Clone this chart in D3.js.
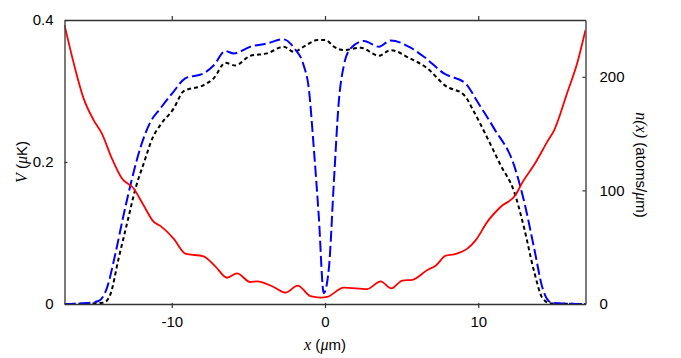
<!DOCTYPE html>
<html>
<head>
<meta charset="utf-8">
<script src="https://cdn.jsdelivr.net/npm/d3@7"></script>
<style>
  body { margin: 0; background: #fff; }
  svg { display: block; }
  text { font-family: "Liberation Sans", Arial, sans-serif; fill: #000; }
  .it { font-family: "Liberation Serif", "Times New Roman", serif; font-style: italic; }
</style>
</head>
<body>
<script>
// potential V(x) in uK
const potential = [
  [-17.0, 0.393], [-16.42, 0.341], [-15.76, 0.29], [-15.1, 0.259], [-14.56, 0.24],
  [-13.91, 0.205], [-13.26, 0.177], [-12.5, 0.163], [-11.84, 0.139], [-11.19, 0.116],
  [-10.75, 0.11], [-9.88, 0.092], [-9.12, 0.071], [-7.92, 0.067], [-7.16, 0.053],
  [-6.39, 0.037], [-5.74, 0.043], [-4.87, 0.031], [-4.43, 0.032], [-3.35, 0.024],
  [-2.58, 0.016], [-1.78, 0.026], [-0.95, 0.011], [-0.29, 0.009], [0.14, 0.01],
  [1.23, 0.023], [2.76, 0.021], [3.63, 0.032], [4.33, 0.022], [5.05, 0.033],
  [5.7, 0.034], [6.68, 0.048], [7.22, 0.054], [7.88, 0.068], [8.42, 0.07],
  [9.29, 0.078], [9.84, 0.09], [10.6, 0.116], [11.47, 0.137], [12.45, 0.154],
  [12.9, 0.172], [13.65, 0.196], [14.52, 0.229], [14.96, 0.245], [15.83, 0.299],
  [16.48, 0.341], [17.0, 0.386]
];

// density n(x) with the dip (blue dashed)
const densityDip = [
  [-17, 0], [-15.54, 0.8], [-14.78, 2.6], [-14.24, 13.8], [-13.7, 43], [-13.15, 78],
  [-12.6, 110], [-12.06, 137], [-11.4, 160], [-10.75, 172], [-9.88, 187], [-9.12, 198.6],
  [-7.92, 203], [-7.27, 210], [-6.5, 222.6], [-5.96, 220.6], [-4.87, 226.5], [-3.78, 229.4],
  [-2.73, 233], [-2.0, 225], [-1.39, 210], [-1.06, 190], [-0.73, 137], [-0.41, 78],
  [-0.08, 9.5], [0.25, 31], [0.58, 107.6], [0.9, 178], [1.23, 210], [1.67, 225],
  [2.54, 231.5], [3.52, 226.5], [4.28, 232], [5.59, 225.6], [6.46, 217.6], [7.76, 203],
  [9.18, 194], [9.95, 178], [11.03, 154.6], [12.34, 122], [13.0, 90], [13.65, 49],
  [14.2, 13.8], [14.74, 1.5], [15.39, 0.5], [17, 0]
];

// density n(x) without the dip (black dotted)
const densityFlat = [
  [-17, 0], [-14.46, 1], [-14.02, 8], [-13.47, 40], [-12.9, 72], [-12.36, 102],
  [-11.8, 125], [-11.26, 146], [-10.75, 157.5], [-9.88, 172], [-9.22, 187.4], [-7.92, 192.7],
  [-7.27, 198.6], [-6.5, 212.3], [-5.85, 210], [-4.87, 218.5], [-3.78, 220.6], [-2.69, 226.5],
  [-2.04, 222], [-1.39, 226.5], [-0.51, 232.3], [0.03, 232.5], [0.58, 226.5], [1.23, 223.5],
  [2.32, 225.6], [3.52, 218.5], [4.28, 223.5], [5.48, 216.7], [6.68, 207.4], [7.87, 192],
  [9.07, 184], [9.73, 169], [10.6, 146], [11.47, 122], [12.34, 99], [13.0, 66.6],
  [13.65, 28.4], [14.2, 5], [14.74, 0.5], [17, 0]
];

const xTicks = [-10, 0, 10];
const vTicks = [0, 0.2, 0.4];
const nTicks = [0, 100, 200];

const baseWidth = 681, baseHeight = 358;
const margin = { top: 20, right: 95.5, bottom: 54, left: 64.5 };
const width = baseWidth - margin.left - margin.right;
const height = baseHeight - margin.top - margin.bottom;

const x = d3.scaleLinear().domain([-17, 17]).range([0, width]);
const yV = d3.scaleLinear().domain([0, 0.4]).range([height, 0]);
const yN = d3.scaleLinear().domain([0, 250]).range([height, 0]);

const svg = d3.select("body").append("svg")
  .attr("width", baseWidth)
  .attr("height", baseHeight);

const chart = svg.append("g")
  .attr("transform", "translate(" + margin.left + "," + margin.top + ")");

chart.append("clipPath").attr("id", "plot")
  .append("rect").attr("x", 0).attr("y", -2).attr("width", width).attr("height", height + 2);

// curves
const lineV = d3.line().x((d) => x(d[0])).y((d) => yV(d[1])).curve(d3.curveMonotoneX);
const lineN = d3.line().x((d) => x(d[0])).y((d) => yN(d[1])).curve(d3.curveMonotoneX);

const curves = chart.append("g").attr("clip-path", "url(#plot)");

curves.append("path")
  .datum(densityFlat)
  .attr("d", lineN)
  .attr("fill", "none")
  .attr("stroke", "#000")
  .attr("stroke-width", 2)
  .attr("stroke-dasharray", "4,3");

curves.append("path")
  .datum(densityDip)
  .attr("d", lineN)
  .attr("fill", "none")
  .attr("stroke", "#0000ff")
  .attr("stroke-width", 2)
  .attr("stroke-dasharray", "11,4");

curves.append("path")
  .datum(potential)
  .attr("d", lineV)
  .attr("fill", "none")
  .attr("stroke", "#ff0000")
  .attr("stroke-width", 1.8);

// axes
const fmt = (d) => String(d);

const axBottom = chart.append("g")
  .attr("transform", "translate(0," + height + ")")
  .call(d3.axisBottom(x).tickValues(xTicks).tickSizeInner(4).tickSizeOuter(0).tickPadding(8).tickFormat(fmt));
const axTop = chart.append("g")
  .call(d3.axisTop(x).tickValues(xTicks).tickSizeInner(4).tickSizeOuter(0).tickFormat(""));
const axLeft = chart.append("g")
  .call(d3.axisLeft(yV).tickValues(vTicks).tickSizeInner(-3).tickSizeOuter(0).tickPadding(11)
    .tickFormat((d) => (d === 0 ? "0" : d3.format(".1f")(d))));
const axRight = chart.append("g")
  .attr("transform", "translate(" + width + ",0)")
  .call(d3.axisRight(yN).tickValues(nTicks).tickSizeInner(-3).tickSizeOuter(0).tickPadding(14));

[axBottom, axTop, axLeft, axRight].forEach((g) => {
  g.select(".domain").attr("stroke", "#333").attr("stroke-width", 1.3);
  g.selectAll(".tick line").attr("stroke", "#333").attr("stroke-width", 1.2);
  g.selectAll(".tick text")
    .style("font-family", "'Liberation Sans', Arial, sans-serif")
    .style("font-size", "15px")
    .attr("fill", "#000");
});
axBottom.selectAll(".tick line").attr("y1", -1);
axTop.selectAll(".tick line").attr("y1", 1);

// axis titles
const xLabel = chart.append("text")
  .attr("x", width / 2)
  .attr("y", height + 46)
  .attr("text-anchor", "middle")
  .style("font-size", "15px");
xLabel.append("tspan").attr("class", "it").style("font-size", "16px").text("x");
xLabel.append("tspan").text(" (");
xLabel.append("tspan").attr("class", "it").style("font-size", "16px").text("μ");
xLabel.append("tspan").text("m)");

const vLabel = chart.append("text")
  .attr("transform", "translate(" + (-38) + "," + height / 2 + ") rotate(-90)")
  .attr("text-anchor", "middle")
  .style("font-size", "15px");
vLabel.append("tspan").attr("class", "it").style("font-size", "16px").text("V");
vLabel.append("tspan").text(" (");
vLabel.append("tspan").attr("class", "it").style("font-size", "16px").text("μ");
vLabel.append("tspan").text("K)");

const nLabel = chart.append("text")
  .attr("transform", "translate(" + (width + 50) + "," + (height / 2 + 3) + ") rotate(90)")
  .attr("text-anchor", "middle")
  .style("font-size", "15px");
nLabel.append("tspan").attr("class", "it").style("font-size", "16px").text("n(x)");
nLabel.append("tspan").text(" (atoms/");
nLabel.append("tspan").attr("class", "it").style("font-size", "16px").text("μ");
nLabel.append("tspan").text("m)");
</script>
</body>
</html>
